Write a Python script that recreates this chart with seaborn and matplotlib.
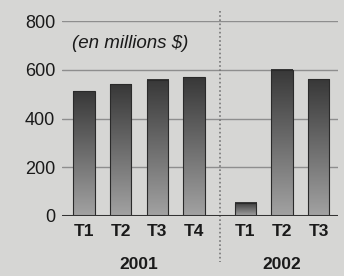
import matplotlib
matplotlib.use("Agg")
import matplotlib.pyplot as plt
import seaborn as sns
import pandas as pd
import numpy as np
from matplotlib.colors import LinearSegmentedColormap

# Data
years = ["2001", "2001", "2001", "2001", "2002", "2002", "2002"]
quarters = ["T1", "T2", "T3", "T4", "T1", "T2", "T3"]
values = [512, 540, 558, 570, 55, 600, 562]
y_ticks = [0, 200, 400, 600, 800]
unit_note = "(en millions $)"

# positions: one unit per quarter, extra gap between years
gap = 0.4
pos = []
for i, yr in enumerate(years):
    pos.append(i + (gap if yr != years[0] else 0))
df = pd.DataFrame({"pos": pos, "value": values, "quarter": quarters, "year": years})

sns.set_style("white")
plt.rcParams['font.family'] = ['Liberation Sans', 'DejaVu Sans']

bg = "#d6d6d4"
fig = plt.figure(figsize=(3.44, 2.76), dpi=100, facecolor=bg)
ax = fig.add_axes([62 / 344, 1 - 216 / 276, (338 - 62) / 344, (216 - 21) / 276])
ax.set_facecolor(bg)

sns.barplot(data=df, x="pos", y="value", native_scale=True, width=0.58,
            color="#555555", ax=ax, zorder=3)

# gradient fill on each bar
cmap = LinearSegmentedColormap.from_list("g", ["#a2a2a2", "#383838"])
grad = np.linspace(0, 1, 256).reshape(-1, 1)
for p in list(ax.patches):
    x0, w, h = p.get_x(), p.get_width(), p.get_height()
    ax.imshow(grad, extent=[x0, x0 + w, 0, h], origin="lower", cmap=cmap,
              aspect="auto", zorder=3)
    p.set_facecolor("none")
    p.set_edgecolor("#2a2a2a")
    p.set_linewidth(0.8)
    p.set_zorder(4)
ax.set_xlim(-0.6, df["pos"].max() + 0.53)
ax.set_ylim(0, 800)

for s in ax.spines.values():
    s.set_visible(False)
ax.set_yticks(y_ticks)
ax.set_yticklabels([str(v) for v in y_ticks], fontsize=13, color="#1a1a1a")
ax.yaxis.grid(True, color="#8e8e8e", linewidth=1.0, zorder=0)
ax.axhline(0, color="#333333", linewidth=2.2, zorder=5)
ax.tick_params(axis="y", length=0, pad=5)

ax.set_xticks(df["pos"])
ax.set_xticklabels(quarters, fontsize=12.5, fontweight="bold", color="#1a1a1a")
ax.tick_params(axis="x", length=0, pad=6)
ax.set_xlabel("")
ax.set_ylabel("")

# year separator
last_first = df[df["year"] == years[0]]["pos"].max()
sep = last_first + 0.71
ax.plot([sep, sep], [840, -190], color="#777777",
        linestyle=(0, (1, 1.5)), linewidth=1.2, clip_on=False, zorder=2)

# year labels
for yr in dict.fromkeys(years):
    sub = df[df["year"] == yr]["pos"]
    ax.text((sub.min() + sub.max()) / 2, -0.25, yr, transform=ax.get_xaxis_transform(),
            ha="center", va="center", fontsize=12.5, fontweight="bold", color="#1a1a1a")

ax.text(0.035, 0.885, unit_note, transform=ax.transAxes, fontsize=13.5,
        fontstyle="italic", color="#1a1a1a", va="center", ha="left")

fig.savefig("out.png", dpi=100, facecolor=bg)
